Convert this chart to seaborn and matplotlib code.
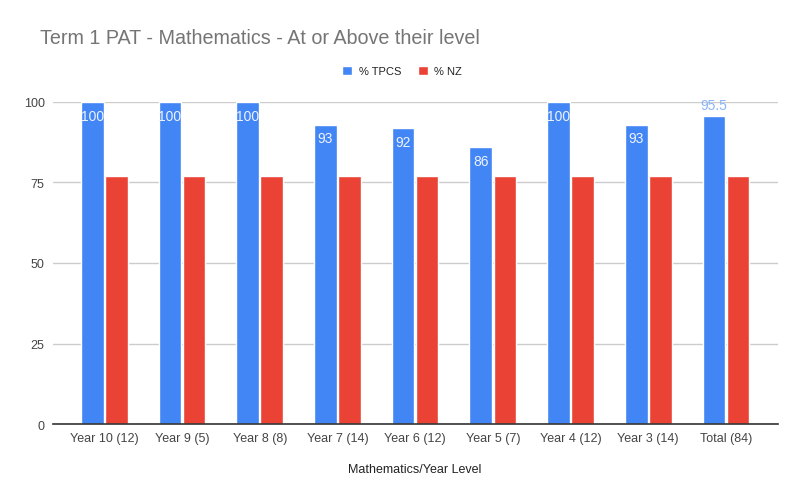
import matplotlib
matplotlib.use("Agg")
import matplotlib.pyplot as plt
import seaborn as sns
import pandas as pd

# -------------------------------
# Data
# -------------------------------
year_levels = ["Year 10 (12)", "Year 9 (5)", "Year 8 (8)", "Year 7 (14)", "Year 6 (12)",
               "Year 5 (7)", "Year 4 (12)", "Year 3 (14)", "Total (84)"]
tpcs = [100, 100, 100, 93, 92, 86, 100, 93, 95.5]
nz = [77, 77, 77, 77, 77, 77, 77, 77, 77]
series = ["% TPCS", "% NZ"]

df = pd.DataFrame({
    "level": year_levels * 2,
    "value": tpcs + nz,
    "series": [series[0]] * len(tpcs) + [series[1]] * len(nz),
})

blue = "#4285F4"
red = "#EA4335"

sns.set_style("white")
plt.rcParams["font.family"] = ["Liberation Sans", "DejaVu Sans"]

fig = plt.figure(figsize=(8.04, 5.02), dpi=100)
ax = fig.add_axes([53 / 804, 1 - 425 / 502, (778 - 53) / 804, (425 - 103) / 502])

sns.barplot(data=df, x="level", y="value", hue="series", order=year_levels,
            hue_order=series, palette=[blue, red], width=0.62, gap=0.06,
            saturation=1, ax=ax, legend=True)

ax.set_xlim(-0.66, 8.67)
ax.set_ylim(0, 100)
ax.set_yticks([0, 25, 50, 75, 100])
ax.yaxis.grid(True, color="#cccccc", linewidth=1)
ax.set_axisbelow(True)
for s in ["top", "right", "left"]:
    ax.spines[s].set_visible(False)
ax.spines["bottom"].set_color("#333333")
ax.spines["bottom"].set_linewidth(1.2)
ax.tick_params(axis="both", length=0, labelsize=9, labelcolor="#444444")
ax.tick_params(axis="y", pad=6)
ax.tick_params(axis="x", pad=6)
ax.set_xlabel("")
ax.set_ylabel("")

# bar labels
tpcs_bars = ax.containers[0]
inside = [f"{v:g}" if i < len(tpcs) - 1 else "" for i, v in enumerate(tpcs)]
outside = ["" if i < len(tpcs) - 1 else f"{v:g}" for i, v in enumerate(tpcs)]
ax.bar_label(tpcs_bars, labels=inside, padding=-15, color="#eef3fe", fontsize=10)
ax.bar_label(tpcs_bars, labels=outside, padding=3, color="#8ab4f8", fontsize=10)

# legend
handles, labels = ax.get_legend_handles_labels()
ax.get_legend().remove()
fig.legend(handles, labels, loc="center", bbox_to_anchor=(402 / 804, 1 - 72 / 502),
           ncol=2, frameon=False, fontsize=8, handlelength=0.9, handleheight=0.9,
           columnspacing=1.5, handletextpad=0.6, labelcolor="#222222")

fig.text(40 / 804, 1 - 38 / 502, "Term 1 PAT - Mathematics - At or Above their level",
         fontsize=14.2, color="#757575", va="center", ha="left")
fig.text(415 / 804, 1 - 470 / 502, "Mathematics/Year Level", fontsize=9,
         color="#222222", va="center", ha="center")

fig.savefig("out.png", dpi=100)
